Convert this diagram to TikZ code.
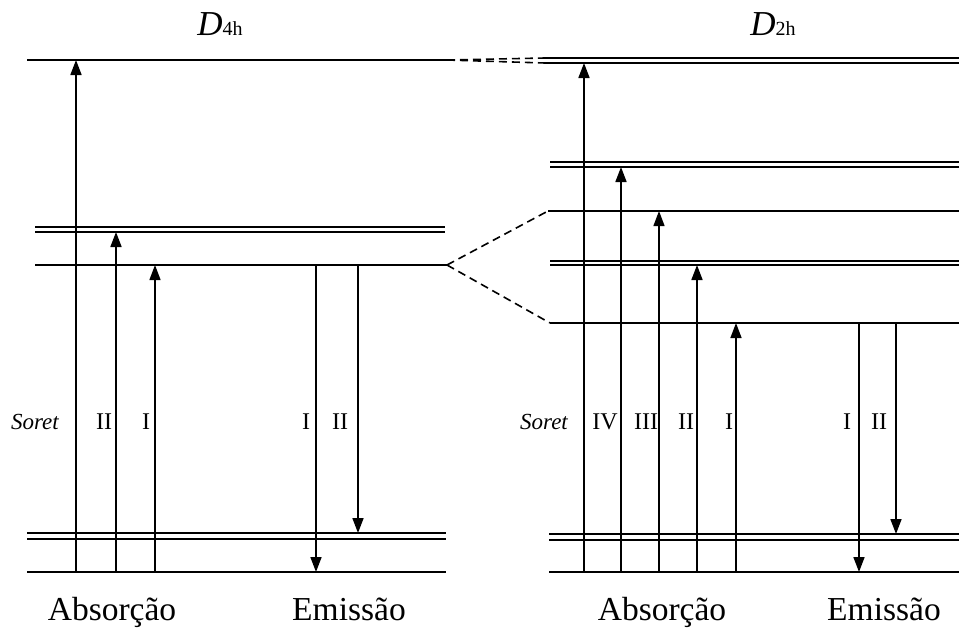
\documentclass[tikz,border=0pt]{standalone}
\usepackage{fontspec}
\setmainfont{Liberation Serif}
\usetikzlibrary{arrows.meta}
\begin{document}
\begin{tikzpicture}[x=1pt,y=-1pt,
  lvl/.style={line width=1.7pt},
  updown/.style={line width=1.7pt,-{Triangle[length=15pt,width=11pt]}},
  dsh/.style={line width=1.6pt,dash pattern=on 8pt off 5pt},
  num/.style={font=\fontsize{24}{26}\selectfont,anchor=base,inner sep=0pt},
  sor/.style={font=\fontsize{23}{25}\selectfont\itshape,anchor=base,inner sep=0pt},
  captext/.style={font=\fontsize{33.5}{36}\selectfont,anchor=base,inner sep=0pt},
  ttl/.style={anchor=base,inner sep=0pt}]
\useasboundingbox (0,0) rectangle (959,627);
% ---------- titles ----------
\node[ttl] (t4) at (220,35) {{\fontsize{35}{38}\selectfont\itshape D}{\fontsize{20}{22}\selectfont 4h}};
\node[ttl] (t2) at (773,35) {{\fontsize{35}{38}\selectfont\itshape D}{\fontsize{20}{22}\selectfont 2h}};
% ---------- left levels ----------
\coordinate (LtopA) at (27,60);   \coordinate (LtopB) at (447,60);
\coordinate (LqA) at (447,265);
\draw[lvl] (LtopA) -- (LtopB);
\draw[lvl] (35,227) -- (445,227);
\draw[lvl] (35,232) -- (445,232);
\draw[lvl] (35,265) -- (LqA);
\draw[lvl] (27,533) -- (446,533);
\draw[lvl] (27,539) -- (446,539);
\draw[lvl] (27,572) -- (446,572);
% ---------- right levels ----------
\coordinate (RtopA) at (545,58); \coordinate (RtopB) at (545,63);
\coordinate (Rq1) at (548,211);  \coordinate (Rq2) at (550,323);
\draw[lvl] (RtopA) -- (959,58);
\draw[lvl] (RtopB) -- (959,63);
\draw[lvl] (550,162) -- (959,162);
\draw[lvl] (550,167) -- (959,167);
\draw[lvl] (Rq1) -- (959,211);
\draw[lvl] (550,261) -- (959,261);
\draw[lvl] (550,265) -- (959,265);
\draw[lvl] (Rq2) -- (959,323);
\draw[lvl] (549,534) -- (959,534);
\draw[lvl] (549,540) -- (959,540);
\draw[lvl] (549,572) -- (959,572);
% ---------- correlation lines ----------
\draw[dsh] (LtopB) -- (RtopA);
\draw[dsh] (LtopB) -- (RtopB);
\draw[dsh] (LqA) -- (Rq1);
\draw[dsh] (LqA) -- (Rq2);
% ---------- left arrows ----------
\coordinate (a1s) at (76,572);  \coordinate (a1e) at (76,60);
\coordinate (a2s) at (116,572); \coordinate (a2e) at (116,232);
\coordinate (a3s) at (155,572); \coordinate (a3e) at (155,265);
\coordinate (e1s) at (316,265); \coordinate (e1e) at (316,572);
\coordinate (e2s) at (358,265); \coordinate (e2e) at (358,533);
\draw[updown] (a1s) -- (a1e);
\draw[updown] (a2s) -- (a2e);
\draw[updown,line width=1.3pt] (a3s) -- (a3e);
\draw[updown] (e1s) -- (e1e);
\draw[updown] (e2s) -- (e2e);
% ---------- right arrows ----------
\coordinate (b1s) at (584,572); \coordinate (b1e) at (584,63);
\coordinate (b2s) at (621,572); \coordinate (b2e) at (621,167);
\coordinate (b3s) at (659,572); \coordinate (b3e) at (659,211);
\coordinate (b4s) at (697,572); \coordinate (b4e) at (697,265);
\coordinate (b5s) at (736,572); \coordinate (b5e) at (736,323);
\coordinate (f1s) at (859,323); \coordinate (f1e) at (859,572);
\coordinate (f2s) at (896,323); \coordinate (f2e) at (896,534);
\draw[updown] (b1s) -- (b1e);
\draw[updown] (b2s) -- (b2e);
\draw[updown,line width=1.3pt] (b3s) -- (b3e);
\draw[updown] (b4s) -- (b4e);
\draw[updown,line width=1.5pt] (b5s) -- (b5e);
\draw[updown] (f1s) -- (f1e);
\draw[updown] (f2s) -- (f2e);
% ---------- labels ----------
\node[sor] (ls) at (35,429) {Soret};
\node[num] (l2) at (104,429) {II};
\node[num] (l1) at (146,429) {I};
\node[num] (le1) at (306,429) {I};
\node[num] (le2) at (340,429) {II};
\node[sor] (rs) at (544,429) {Soret};
\node[num] (r4) at (605,429) {IV};
\node[num] (r3) at (646,429) {III};
\node[num] (r2) at (686,429) {II};
\node[num] (r1) at (729,429) {I};
\node[num] (re1) at (847,429) {I};
\node[num] (re2) at (879,429) {II};
\node[captext] (la) at (112,620) {Absorção};
\node[captext] (lem) at (349,620) {Emissão};
\node[captext] (ra) at (662,620) {Absorção};
\node[captext] (rem) at (884,620) {Emissão};
\end{tikzpicture}
\end{document}
